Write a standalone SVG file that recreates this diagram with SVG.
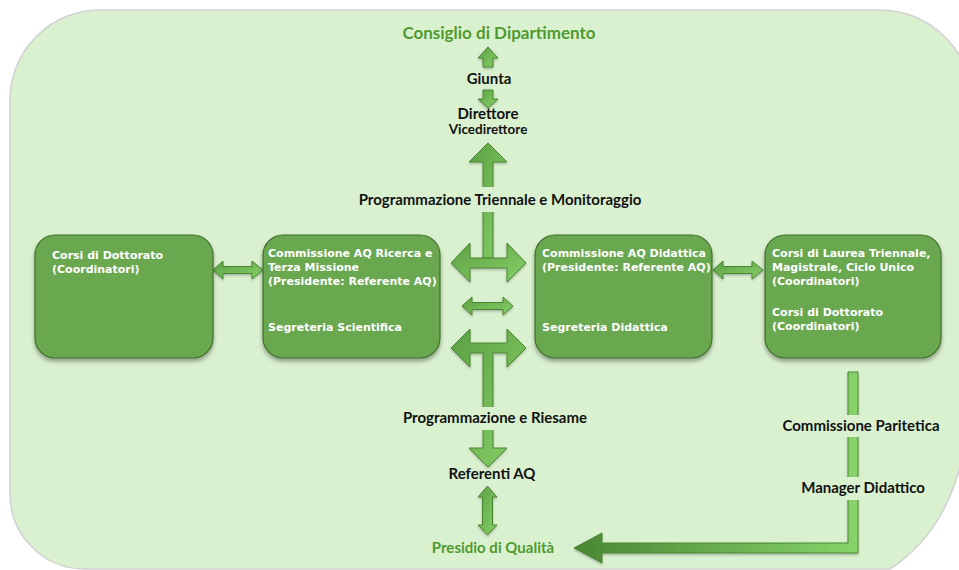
<svg xmlns="http://www.w3.org/2000/svg" width="959" height="570" viewBox="0 0 959 570">
<defs>
<style>
.bg{fill:#daf1d0;stroke:#d2d2d2;stroke-width:1.5}
.box{fill:#6aa84f;stroke:#3f6e2c;stroke-width:1.2}
.bt{font-family:"DejaVu Sans",Verdana,sans-serif;font-weight:bold;font-size:11px;fill:#ffffff}
.lbl{font-family:Lato,"Liberation Sans",sans-serif;font-weight:bold;font-size:15px;fill:#111111;text-anchor:middle}
.glbl{font-family:Lato,"Liberation Sans",sans-serif;font-weight:bold;font-size:17px;fill:#4f9a2f;text-anchor:middle}
.arr{fill:url(#ag);stroke:#4a8535;stroke-width:1}
.gap{fill:#daf1d0}
</style>
<linearGradient id="ag" x1="0" y1="0" x2="1" y2="1">
<stop offset="0" stop-color="#5c9f43"/>
<stop offset="1" stop-color="#86d167"/>
</linearGradient>
<linearGradient id="lg" gradientUnits="userSpaceOnUse" x1="574" y1="0" x2="858" y2="0">
<stop offset="0" stop-color="#4a8634"/>
<stop offset="1" stop-color="#86d46a"/>
</linearGradient>
<filter id="sh" x="-10%" y="-10%" width="120%" height="130%">
<feDropShadow dx="0" dy="3" stdDeviation="2" flood-color="#000" flood-opacity="0.35"/>
</filter>
<filter id="ash" x="-20%" y="-20%" width="140%" height="140%">
<feDropShadow dx="0" dy="1.5" stdDeviation="1" flood-color="#000" flood-opacity="0.25"/>
</filter>
</defs>

<path class="bg" d="M10,100 A90,90 0 0 1 100,10 H880 A92,92 0 0 1 972,102 V360 C972,460 950,530 890,569 H85 A75,75 0 0 1 10,494 Z"/>

<g id="connectors" filter="url(#ash)">
<polygon class="arr" points="488,47 498,58 493,58 493,67 483,67 483,58 478,58"/>
<polygon class="arr" points="483,90 493,90 493,99 498,99 488,108 478,99 483,99"/>
<polygon class="arr" points="488,143 507,162 493,162 493,258 483,258 483,162 469,162"/>
<polygon class="arr" points="451,263 470,243 470,258 507,258 507,243 526,263 507,282 507,268 470,268 470,282"/>
<polygon class="arr" points="462,306 472,297 472,302.5 503,302.5 503,297 513,306 503,315 503,309.5 472,309.5 472,315"/>
<polygon class="arr" points="451,348 470,329 470,343 507,343 507,329 526,348 507,367 507,353 493,353 493,448 507,448 488,467 469,448 483,448 483,353 470,353 470,367"/>
<polygon class="arr" points="487.5,486 497,497 492.5,497 492.5,525 497,525 487.5,535 478,525 482.5,525 482.5,497 478,497"/>
<polygon class="arr" points="213,270 223,261 223,266.5 252,266.5 252,261 263,270 252,279 252,273.5 223,273.5 223,279"/>
<polygon class="arr" points="713,270 723,261 723,266.5 752,266.5 752,261 763,270 752,279 752,273.5 723,273.5 723,279"/>
<polygon fill="url(#lg)" stroke="#4a8535" stroke-width="1" points="848,372 858,372 858,553 602,553 602,563 574,548 602,533 602,543 848,543"/>
</g>

<g id="label-gaps">
<rect class="gap" x="350" y="187" width="300" height="25"/>
<rect class="gap" x="398" y="407" width="195" height="23"/>
<rect class="gap" x="780" y="415" width="162" height="22"/>
<rect class="gap" x="798" y="477" width="130" height="23"/>
</g>

<g id="consiglio"><text class="glbl" x="499" y="39">Consiglio di Dipartimento</text></g>
<g id="giunta"><text class="lbl" x="489" y="84">Giunta</text></g>
<g id="direttore"><text class="lbl" x="488" y="119">Direttore</text><text class="lbl" x="488" y="134" style="font-size:13.5px">Vicedirettore</text></g>
<g id="prog-triennale"><text class="lbl" x="500" y="205">Programmazione Triennale e Monitoraggio</text></g>
<g id="prog-riesame"><text class="lbl" x="495" y="423">Programmazione e Riesame</text></g>
<g id="referenti"><text class="lbl" x="492" y="479">Referenti AQ</text></g>
<g id="presidio"><text class="glbl" x="493" y="553" style="font-size:15px">Presidio di Qualità</text></g>
<g id="paritetica"><text class="lbl" x="861" y="431">Commissione Paritetica</text></g>
<g id="manager"><text class="lbl" x="863" y="493">Manager Didattico</text></g>

<g id="box-dottorato">
<rect class="box" filter="url(#sh)" x="35" y="235" width="178" height="123" rx="20"/>
<text class="bt" x="52" y="259">Corsi di Dottorato</text>
<text class="bt" x="52" y="273">(Coordinatori)</text>
</g>
<g id="box-ricerca">
<rect class="box" filter="url(#sh)" x="263" y="235" width="177" height="123" rx="20"/>
<text class="bt" x="268" y="257">Commissione AQ Ricerca e</text>
<text class="bt" x="268" y="271">Terza Missione</text>
<text class="bt" x="268" y="285">(Presidente: Referente AQ)</text>
<text class="bt" x="268" y="331">Segreteria Scientifica</text>
</g>
<g id="box-didattica">
<rect class="box" filter="url(#sh)" x="535" y="235" width="177" height="123" rx="20"/>
<text class="bt" x="542" y="257">Commissione AQ Didattica</text>
<text class="bt" x="542" y="271">(Presidente: Referente AQ)</text>
<text class="bt" x="542" y="331">Segreteria Didattica</text>
</g>
<g id="box-corsi">
<rect class="box" filter="url(#sh)" x="765" y="235" width="176" height="123" rx="20"/>
<text class="bt" x="772" y="257">Corsi di Laurea Triennale,</text>
<text class="bt" x="772" y="271">Magistrale, Ciclo Unico</text>
<text class="bt" x="772" y="285">(Coordinatori)</text>
<text class="bt" x="772" y="316">Corsi di Dottorato</text>
<text class="bt" x="772" y="330">(Coordinatori)</text>
</g>
</svg>
